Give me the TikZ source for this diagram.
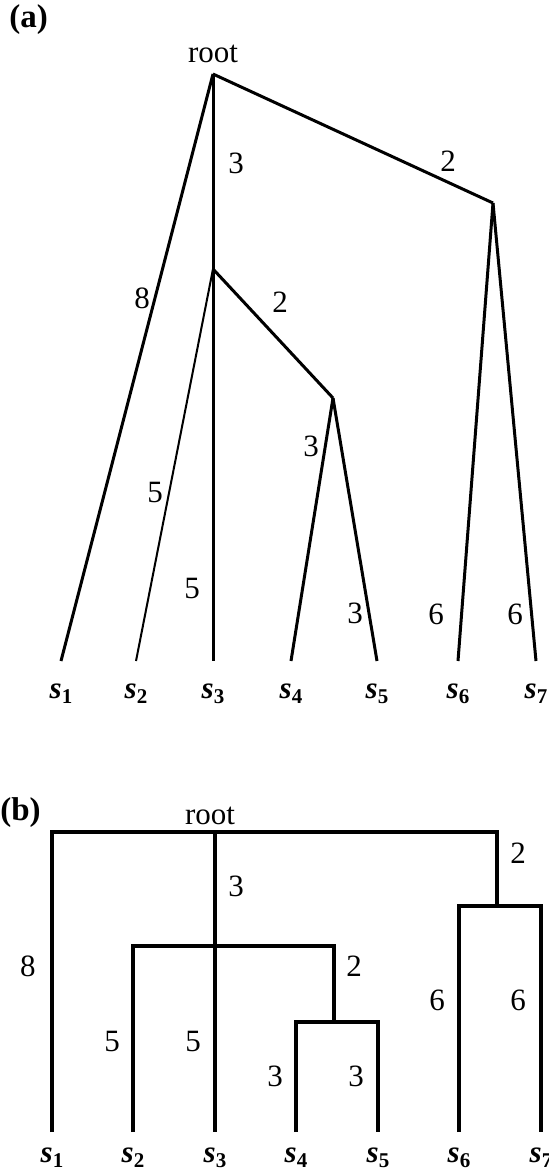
\documentclass[tikz,border=0pt]{standalone}
\usepackage{fontspec}
\setmainfont{Liberation Serif}
\usetikzlibrary{positioning}
\newcommand{\sname}[1]{\textbf{\textit{s}\raisebox{-2.5pt}{\fontsize{10.5}{12}\selectfont\bfseries #1}}}

\begin{document}
\begin{tikzpicture}[x=0.5pt,y=-0.5pt,font=\fontsize{15.5}{18}\selectfont,
  edge/.style={line width=1.5pt},
  thinedge/.style={line width=1pt},
  elbow/.style={line width=2pt},
  wt/.style={inner sep=0pt},
  leaf/.style={inner sep=0pt,anchor=base},
  panel/.style={inner sep=0pt,anchor=base west,font=\fontsize{16.5}{18}\selectfont\bfseries}]
\useasboundingbox (0,0) rectangle (549,1174);
% (a)
\node[panel] (pa) at (9,27) {(a)};
\coordinate (ra) at (213,74); \coordinate (na) at (213,269);
\coordinate (nb) at (493,203); \coordinate (nc) at (333,398);
\coordinate (a1) at (61,661); \coordinate (a2) at (136,661); \coordinate (a3) at (213,661);
\coordinate (a4) at (291,661); \coordinate (a5) at (377,661); \coordinate (a6) at (458,661);
\coordinate (a7) at (536,661);
\node[leaf] (rta) at (213,62) {root};
\draw[edge] (ra) -- (a1); \draw[edge] (ra) -- (a3); \draw[edge] (ra) -- (nb);
\draw[thinedge] (na) -- (a2); \draw[edge] (na) -- (nc);
\draw[edge] (nc) -- (a4); \draw[edge] (nc) -- (a5);
\draw[edge] (nb) -- (a6); \draw[edge] (nb) -- (a7);
\foreach \i in {1,...,7} \node[leaf] (la\i) at ([yshift=-18.5pt]a\i) {\sname{\i}};
\node[wt] (wa1) at (236,163) {3}; \node[wt] (wa2) at (448,161) {2};
\node[wt] (wa3) at (142,298) {8}; \node[wt] (wa4) at (280,302) {2};
\node[wt] (wa5) at (155,492) {5}; \node[wt] (wa6) at (311,446) {3};
\node[wt] (wa7) at (192,588) {5}; \node[wt] (wa8) at (355,613) {3};
\node[wt] (wa9) at (436,614) {6}; \node[wt] (wa10) at (515,614) {6};
% (b)
\node[panel] (pb) at (0,820) {(b)};
\coordinate (rb) at (215,832); \coordinate (mb) at (215,946);
\coordinate (qb) at (497,906); \coordinate (cb) at (334,1022);
\coordinate (b1) at (52,1132); \coordinate (b2) at (133,1132); \coordinate (b3) at (215,1132);
\coordinate (b4) at (296,1132); \coordinate (b5) at (378,1132); \coordinate (b6) at (459,1132);
\coordinate (b7) at (541,1132);
\node[leaf] (rtb) at (210,824) {root};
\draw[elbow] (b1) |- (rb) -| (qb); \draw[elbow] (rb) -- (b3);
\draw[elbow] (b6) |- (qb) -| (b7);
\draw[elbow] (b2) |- (mb) -| (cb);
\draw[elbow] (b4) |- (cb) -| (b5);
\foreach \i in {1,...,7} \node[leaf] (lb\i) at ([yshift=-15pt]b\i) {\sname{\i}};
\node[wt] (wb1) at (236,886) {3}; \node[wt] (wb2) at (518,853) {2};
\node[wt] (wb3) at (28,966) {8}; \node[wt] (wb4) at (354,966) {2};
\node[wt] (wb5) at (437,1000) {6}; \node[wt] (wb6) at (518,1000) {6};
\node[wt] (wb7) at (112,1041) {5}; \node[wt] (wb8) at (193,1041) {5};
\node[wt] (wb9) at (275,1076) {3}; \node[wt] (wb10) at (356,1076) {3};
\end{tikzpicture}
\end{document}
